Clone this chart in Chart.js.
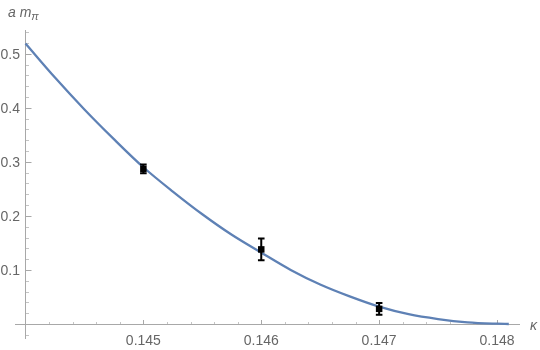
<!DOCTYPE html>
<html><head><meta charset="utf-8">
<script src="https://cdn.jsdelivr.net/npm/chart.js@4"></script>
<style>html,body{margin:0;padding:0;background:#fff}#wrap{width:540px;height:350px;position:relative}</style>
</head><body><div id="wrap"><canvas id="c" width="540" height="350"></canvas></div>
<script>
// fitted curve
const kappaCurve = [0.14400,0.14425,0.14450,0.14475,0.14500,0.14525,0.14550,0.14575,0.14600,0.14625,0.14650,0.14675,0.14700,0.14725,0.14750,0.14775,0.14800,0.14810];
const amCurve    = [0.519,0.456,0.397,0.342,0.290,0.245,0.203,0.165,0.132,0.100,0.073,0.051,0.032,0.018,0.009,0.003,0.0005,0.0];
// data points with errors
const kappaData = [0.145, 0.146, 0.147];
const amData    = [0.287, 0.138, 0.028];
const amErr     = [0.008, 0.020, 0.011];
// ticks
const xTickValues = [0.145, 0.146, 0.147, 0.148];
const xTickLabels = ["0.145", "0.146", "0.147", "0.148"];
const yTickValues = [0.1, 0.2, 0.3, 0.4, 0.5];
const yTickLabels = ["0.1", "0.2", "0.3", "0.4", "0.5"];
const xOrigin = 0.144, yOrigin = 0;

const FONT = '"Liberation Sans", Arial, sans-serif';

const axesPlugin = {
  id: 'mmaAxes',
  beforeDatasetsDraw(chart) {
    const ctx = chart.ctx, xs = chart.scales.x, ys = chart.scales.y;
    const x0 = Math.round(xs.getPixelForValue(xOrigin)) + 0.5;
    const y0 = Math.round(ys.getPixelForValue(yOrigin)) + 0.5;
    ctx.save();
    ctx.lineWidth = 1;
    // minor ticks
    ctx.strokeStyle = '#c4c4c4';
    ctx.beginPath();
    for (let i = 1; i <= 20; i++) {
      const v = 0.144 + i * 0.0002;
      if (i % 5 === 0) continue;
      const px = Math.round(xs.getPixelForValue(v)) + 0.5;
      ctx.moveTo(px, y0); ctx.lineTo(px, y0 - 2.5);
    }
    for (let i = -1; i <= 27; i++) {
      if (i % 5 === 0) continue;
      const py = Math.round(ys.getPixelForValue(i * 0.02)) + 0.5;
      ctx.moveTo(x0, py); ctx.lineTo(x0 + 3.5, py);
    }
    ctx.stroke();
    // axes and major ticks
    ctx.strokeStyle = '#a8a8a8';
    ctx.beginPath();
    ctx.moveTo(chart.chartArea.left, y0); ctx.lineTo(chart.chartArea.right, y0);
    ctx.moveTo(x0, chart.chartArea.top); ctx.lineTo(x0, chart.chartArea.bottom);
    xTickValues.forEach(v => { const px = Math.round(xs.getPixelForValue(v)) + 0.5; ctx.moveTo(px, y0); ctx.lineTo(px, y0 - 4.5); });
    yTickValues.forEach(v => { const py = Math.round(ys.getPixelForValue(v)) + 0.5; ctx.moveTo(x0, py); ctx.lineTo(x0 + 6, py); });
    ctx.stroke();
    // tick labels
    ctx.fillStyle = '#666666';
    ctx.font = '14px ' + FONT;
    ctx.textAlign = 'center'; ctx.textBaseline = 'alphabetic';
    xTickValues.forEach((v, i) => ctx.fillText(xTickLabels[i], xs.getPixelForValue(v), y0 + 20));
    ctx.textAlign = 'right';
    yTickValues.forEach((v, i) => ctx.fillText(yTickLabels[i], x0 - 5.5, ys.getPixelForValue(v) + 5));
    // axis titles
    ctx.font = 'italic 14px ' + FONT;
    ctx.textAlign = 'left';
    ctx.fillText('a', 8, 17);
    const wa = ctx.measureText('a ').width;
    ctx.fillText('m', 8 + wa, 17);
    const wm = ctx.measureText('m').width;
    ctx.font = 'italic 11px ' + FONT;
    ctx.fillText('π', 8 + wa + wm, 20);
    ctx.font = 'italic 14px ' + FONT;
    ctx.fillText('κ', 530, y0 + 5);
    ctx.restore();
  },
  afterDatasetsDraw(chart) {
    const ctx = chart.ctx, xs = chart.scales.x, ys = chart.scales.y;
    ctx.save();
    ctx.strokeStyle = '#000'; ctx.lineWidth = 2;
    ctx.beginPath();
    kappaData.forEach((k, i) => {
      const px = xs.getPixelForValue(k);
      const pt = ys.getPixelForValue(amData[i] + amErr[i]);
      const pb = ys.getPixelForValue(amData[i] - amErr[i]);
      ctx.moveTo(px, pt); ctx.lineTo(px, pb);
      ctx.moveTo(px - 3.3, pt); ctx.lineTo(px + 3.3, pt);
      ctx.moveTo(px - 3.3, pb); ctx.lineTo(px + 3.3, pb);
    });
    ctx.stroke();
    ctx.restore();
  }
};

new Chart(document.getElementById('c'), {
  type: 'scatter',
  data: {
    datasets: [
      {
        type: 'line',
        data: kappaCurve.map((k, i) => ({ x: k, y: amCurve[i] })),
        borderColor: '#5E81B5', borderWidth: 2.3, pointRadius: 0,
        cubicInterpolationMode: 'monotone', fill: false, order: 2
      },
      {
        data: kappaData.map((k, i) => ({ x: k, y: amData[i] })),
        pointStyle: 'rect', pointRadius: 4.6, backgroundColor: '#000', borderWidth: 0, order: 1
      }
    ]
  },
  options: {
    responsive: false, animation: false, events: [],
    layout: { padding: { left: 15, right: 20, top: 30, bottom: 11 } },
    plugins: { legend: { display: false }, tooltip: { enabled: false } },
    scales: {
      x: { type: 'linear', display: false, min: 0.143911, max: 0.148195 },
      y: { type: 'linear', display: false, min: -0.0278, max: 0.544 }
    }
  },
  plugins: [axesPlugin]
});
</script>
</body></html>
